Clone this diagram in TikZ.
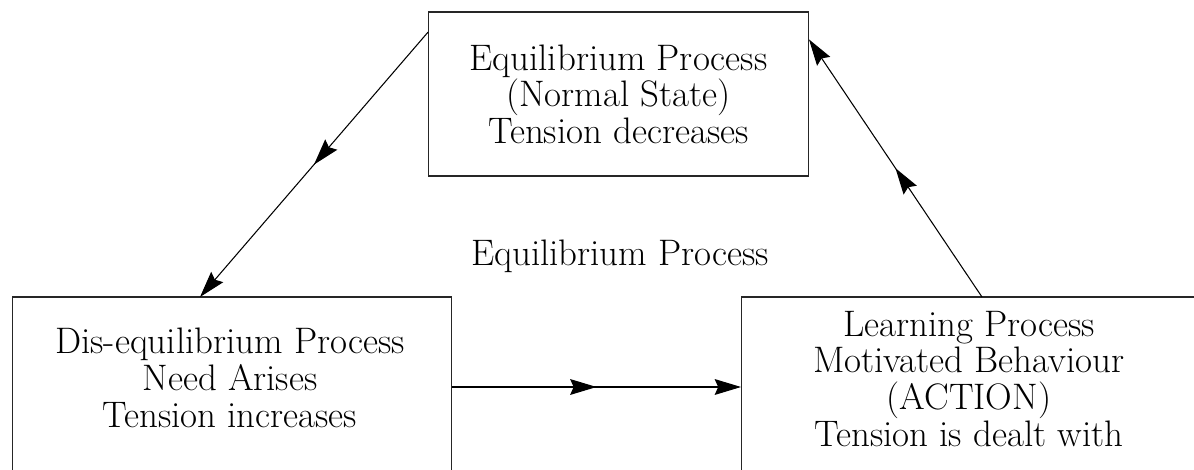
\documentclass[tikz,border=0pt]{standalone}
\usepackage{fontspec}
\usepackage{tikz}
\usetikzlibrary{%
  arrows.meta,%
  calc,%
  decorations.markings,%
  positioning% wg. " of "
}

\tikzset{
  box/.style={draw=black!85, line width=0.6pt, rectangle, outer sep=0pt, inner sep=0pt},
  boxtext/.style={align=center, anchor=base, inner sep=0pt,
    font=\fontsize{21}{20.8}\selectfont},
  flow/.style={draw, line width=0.6pt, -{Stealth[length=15pt,width=9pt,inset=2pt]},
    postaction={decorate},
    decoration={markings, mark=at position 0.5 with {\arrow{Stealth[length=15pt,width=9pt,inset=2pt]}}}}
}

\begin{document}
\begin{tikzpicture}[x=0.02cm, y=-0.02cm]
  \path[fill=white, use as bounding box] (0,0) rectangle (1194,470);
  \clip (0,0) rectangle (1194,470);

  % the three states
  \node [box, minimum width=7.62cm, minimum height=3.28cm, align=center,
         font=\fontsize{21}{20.8}\selectfont] (equil) at (618.5,94)
    {Equilibrium Process\\(Normal State)\\Tension decreases};
  \node [box, minimum width=8.8cm, minimum height=3.6cm] (diseq) at (232,387) {};
  \node [box, minimum width=9.12cm, minimum height=3.6cm] (learn) at (969,387) {};

  % base = last line of each text
  \node [boxtext] (diseqtext) at (230,427)
    {Dis-equilibrium Process\\Need Arises\\Tension increases};
  \node [boxtext] (learntext) at (969,446)
    {Learning Process\\Motivated Behaviour\\(ACTION)\\Tension is dealt with};
  \node [boxtext] (cycle) at (620,265) {Equilibrium Process};

  % the cycle
  \draw [flow] (equil.162) -- ($(diseq.north)+(-32,0)$);
  \draw [flow] (diseq.east) -- (learn.west);
  \draw [flow] ($(learn.north)+(13,0)$) -- (equil.16);
\end{tikzpicture}
\end{document}
